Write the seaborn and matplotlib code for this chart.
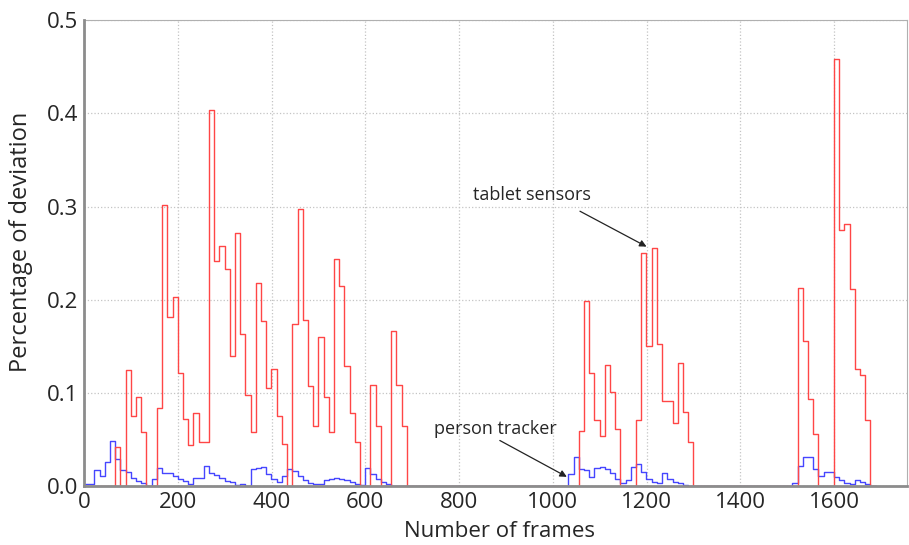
import numpy as np
import pandas as pd
import matplotlib
matplotlib.use("Agg")
import matplotlib.pyplot as plt
import seaborn as sns

# ---- data (one step = one bin of ~11.1 frames) ----
frame_step = 11.11
n_bins = 152

red_part1_start = 6
red_part1 = [0.042, 0.0, 0.125, 0.075, 0.096, 0.058, 0.0, 0.0, 0.084, 0.302,
             0.181, 0.203, 0.121, 0.072, 0.044, 0.078, 0.047, 0.047, 0.404, 0.242,
             0.258, 0.233, 0.140, 0.272, 0.163, 0.098, 0.058, 0.218, 0.177, 0.105,
             0.126, 0.075, 0.045, 0.0, 0.174, 0.297, 0.178, 0.107, 0.064, 0.160,
             0.096, 0.058, 0.244, 0.215, 0.129, 0.078, 0.047, 0.0, 0.0, 0.109,
             0.065, 0.0, 0.0, 0.166, 0.108, 0.065]
red_part2_start = 95
red_part2 = [0.059, 0.199, 0.121, 0.071, 0.054, 0.130, 0.101, 0.061, 0.0, 0.0,
             0.0, 0.071, 0.250, 0.150, 0.255, 0.153, 0.091, 0.091, 0.068, 0.132,
             0.080, 0.047]
red_part3_start = 137
red_part3 = [0.213, 0.156, 0.094, 0.056, 0.0, 0.0, 0.0, 0.458, 0.275, 0.281,
             0.211, 0.126, 0.119, 0.071]

blue_part1_start = 0
blue_part1 = [0.0025, 0.0025, 0.017, 0.011, 0.026, 0.048, 0.029, 0.017, 0.015, 0.009,
              0.0055, 0.003, 0.0, 0.008, 0.020, 0.0145, 0.014, 0.011, 0.0075, 0.005,
              0.002, 0.009, 0.009, 0.022, 0.0145, 0.012, 0.009, 0.0055, 0.004, 0.001,
              0.002, 0.0, 0.018, 0.0196, 0.021, 0.0125, 0.008, 0.004, 0.011, 0.018,
              0.016, 0.011, 0.007, 0.0036, 0.0025, 0.0025, 0.007, 0.008, 0.009, 0.008,
              0.007, 0.0046, 0.0025, 0.001, 0.0196, 0.0125, 0.008, 0.004, 0.002]
blue_part2_start = 93
blue_part2 = [0.013, 0.031, 0.018, 0.017, 0.010, 0.0196, 0.0207, 0.018, 0.014, 0.008,
              0.003, 0.0064, 0.021, 0.024, 0.015, 0.008, 0.0046, 0.0036, 0.0146, 0.008,
              0.0046, 0.003, 0.001]
blue_part3_start = 136
blue_part3 = [0.003, 0.022, 0.031, 0.031, 0.018, 0.011, 0.015, 0.015, 0.010, 0.0065,
              0.0035, 0.002, 0.0065, 0.0045, 0.002]

x_ticks = [0, 200, 400, 600, 800, 1000, 1200, 1400, 1600]
y_ticks = [0.0, 0.1, 0.2, 0.3, 0.4, 0.5]


def build(parts):
    vals = np.zeros(n_bins)
    for start, seg in parts:
        vals[start:start + len(seg)] = seg
    frames = np.arange(n_bins + 1) * frame_step
    vals = np.append(vals, vals[-1])  # close the last step
    return frames, vals


fr, red = build([(red_part1_start, red_part1), (red_part2_start, red_part2),
                 (red_part3_start, red_part3)])
_, blue = build([(blue_part1_start, blue_part1), (blue_part2_start, blue_part2),
                 (blue_part3_start, blue_part3)])

df_red = pd.DataFrame({"frames": fr, "dev": red})
df_blue = pd.DataFrame({"frames": fr, "dev": blue})

# ---- plotting ----
sns.set_style("white")
plt.rcParams["font.family"] = ["Open Sans", "DejaVu Sans"]

fig = plt.figure(figsize=(9.09, 5.45), dpi=100)
ax = fig.add_axes([0.0924, 0.108, 0.9056, 0.855])

sns.lineplot(data=df_blue, x="frames", y="dev", ax=ax, color="#4646ff",
             linewidth=1.0, drawstyle="steps-post", estimator=None, sort=False)
sns.lineplot(data=df_red, x="frames", y="dev", ax=ax, color="#ff4646",
             linewidth=1.0, drawstyle="steps-post", estimator=None, sort=False)

ax.set_xlim(0, 1756)
ax.set_ylim(0, 0.5)
ax.set_xticks(x_ticks)
ax.set_yticks(y_ticks)
ax.set_yticklabels([f"{v:.1f}" for v in y_ticks])
ax.grid(True, linestyle=":", color="#c4c4c4", linewidth=0.9)
ax.set_axisbelow(True)

for s in ["top", "right"]:
    ax.spines[s].set_color("#b0b0b0")
    ax.spines[s].set_linewidth(0.8)
for s in ["left", "bottom"]:
    ax.spines[s].set_color("#8c8c8c")
    ax.spines[s].set_linewidth(2.0)
    ax.spines[s].set_zorder(5)

ax.tick_params(axis="both", labelsize=16, direction="in", length=3,
               color="#8c8c8c", pad=4)
ax.set_xlabel("Number of frames", fontsize=16)
ax.set_ylabel("Percentage of deviation", fontsize=17)
ax.xaxis.set_label_coords(0.505, -0.074)
ax.yaxis.set_label_coords(-0.062, 0.524)

arrow_kw = dict(arrowstyle="-|>", color="#222222", lw=0.9,
                shrinkA=0, shrinkB=0, mutation_scale=10)
ax.text(955, 0.312, "tablet sensors", fontsize=13, ha="center", va="center")
ax.annotate("", xy=(1200, 0.257), xytext=(1058, 0.295), arrowprops=arrow_kw)
ax.text(877, 0.061, "person tracker", fontsize=13, ha="center", va="center")
ax.annotate("", xy=(1030, 0.010), xytext=(887, 0.049), arrowprops=arrow_kw)

fig.savefig("out.png", dpi=100)
